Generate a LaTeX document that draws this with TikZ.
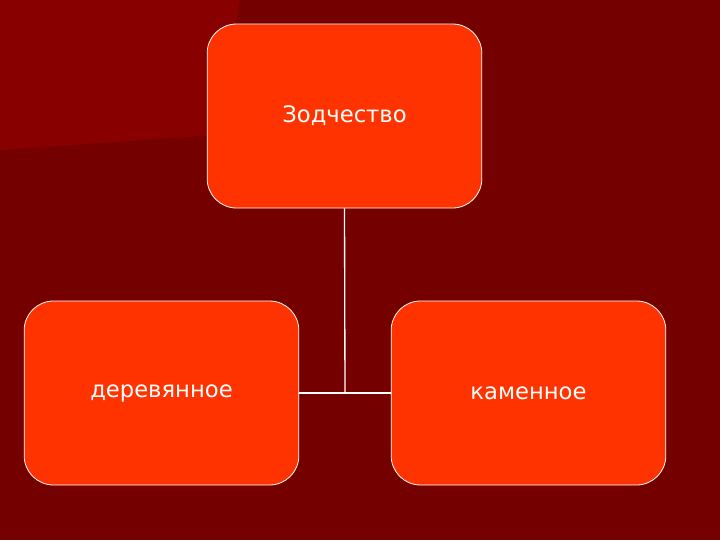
\documentclass[tikz,border=0pt]{standalone}
\usepackage{fontspec}
\setmainfont{DejaVu Sans}
\definecolor{bgdark}{HTML}{740000}
\definecolor{bglight}{HTML}{880000}
\definecolor{boxfill}{HTML}{FF3300}
\begin{document}
\begin{tikzpicture}[x=0.75pt,y=-0.75pt,
  boxnode/.style={draw=white,line width=0.6pt,fill=boxfill,rounded corners=22pt,
    minimum width=206pt,minimum height=138pt,text=white,font=\fontsize{17}{20}\selectfont,inner sep=0pt},
  link/.style={draw=white,line width=1pt}]
\fill[bgdark] (0,0) rectangle (720,540);
\useasboundingbox (0,0) rectangle (720,540);
\fill[bglight] (0,0) -- (240,0) -- (215,135) -- (0,150) -- cycle;
\node[boxnode] (top) at (344.5,116) {Зодчество};
\node[boxnode] (left) at (161.5,393) {деревянное};
\node[boxnode] (right) at (528.5,393) {каменное};
\coordinate (j) at (345,393);
\draw[link] (top.south) -- (j);
\draw[link] (left.east) -- (right.west);
\end{tikzpicture}
\end{document}
